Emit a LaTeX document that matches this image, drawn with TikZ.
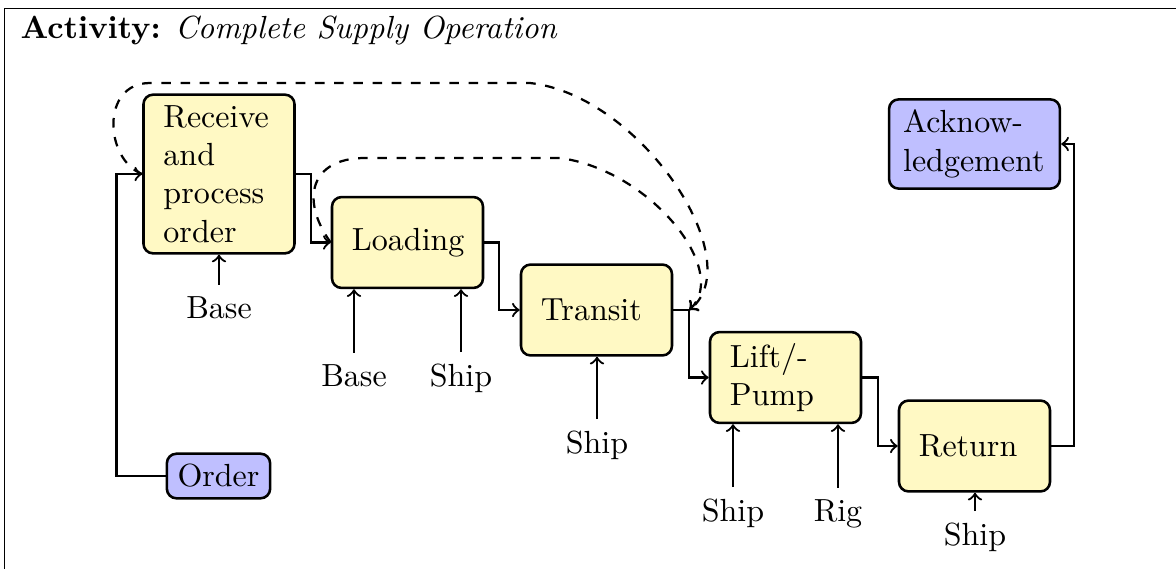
\documentclass[tikz,border=0pt]{standalone}
\usetikzlibrary{calc}
\definecolor{procfill}{RGB}{255,249,196}
\definecolor{iofill}{RGB}{191,191,255}
\begin{document}
\begin{tikzpicture}[x=0.3125pt,y=-0.3125pt,
  proc/.style={draw,thick,rounded corners=3pt,fill=procfill,text width=34.7pt,align=left,inner xsep=6.25pt,inner ysep=3.33pt,minimum height=28.4pt},
  io/.style={draw,thick,rounded corners=3pt,fill=iofill},
  res/.style={anchor=base},
  flow/.style={->,line width=0.7pt},
  feedback/.style={->,line width=0.7pt,dashed}]
\useasboundingbox (0,0) rectangle (1176,568);
\draw[semithick] (4.5,570) -- (4.5,8.5) -- (1178,8.5);
\node[anchor=base west,inner sep=0pt] (title) at (20,38) {\textbf{Activity:} \textit{Complete Supply Operation}};
% process boxes
\node[proc] (receive) at (219,174) {Receive\\and\\process\\order};
\node[proc] (loading) at (407.5,242.5) {Loading};
\node[proc] (transit) at (596.5,310) {Transit};
\node[proc] (lift) at (785.5,377.5) {Lift/-\\Pump};
\node[proc] (return) at (974.5,446) {Return};
\node[io,text width=44.6pt,align=left,inner xsep=4.4pt] (ack) at (974.5,144) {Acknow-\\ledgement};
\node[io] (order) at (218.5,476) {Order};
% resources
\node[res] (rbase) at (219,318) {Base};
\node[res] (lbase) at (354,386) {Base};
\node[res] (lship) at (461,386) {Ship};
\node[res] (tship) at (597,453) {Ship};
\node[res] (pship) at (733,521) {Ship};
\node[res] (prig) at (838,521) {Rig};
\node[res] (eship) at (975,545) {Ship};
\draw[flow] (rbase.north) -- (rbase.north |- receive.south);
\draw[flow] (lbase.north) -- (lbase.north |- loading.south);
\draw[flow] (lship.north) -- (lship.north |- loading.south);
\draw[flow] (tship.north) -- (tship.north |- transit.south);
\draw[flow] (pship.north) -- (pship.north |- lift.south);
\draw[flow] (prig.north) -- (prig.north |- lift.south);
\draw[flow] (eship.north) -- (eship.north |- return.south);
% flow
\draw[flow] (receive.east) -- ++(15,0) |- (loading.west);
\draw[flow] (loading.east) -- ++(15,0) |- (transit.west);
\draw[flow] (transit.east) -- ++(16,0) coordinate (tbend) |- (lift.west);
\draw[flow] (lift.east) -- ++(16,0) |- (return.west);
\draw[flow] (return.east) -- ++(23,0) |- (ack.east);
\draw[flow] (order.west) -- ++(-49,0) |- (receive.west);
% feedback loops
\draw[feedback] (loading.west) .. controls (300,200) and (310,158) .. (365,158) -- (560,158) .. controls (650,170) and (730,270) .. (tbend);
\draw[feedback] (receive.west) .. controls (105,160) and (100,83) .. (150,83) -- (530,83) .. controls (640,95) and (750,260) .. (tbend);
\end{tikzpicture}
\end{document}
